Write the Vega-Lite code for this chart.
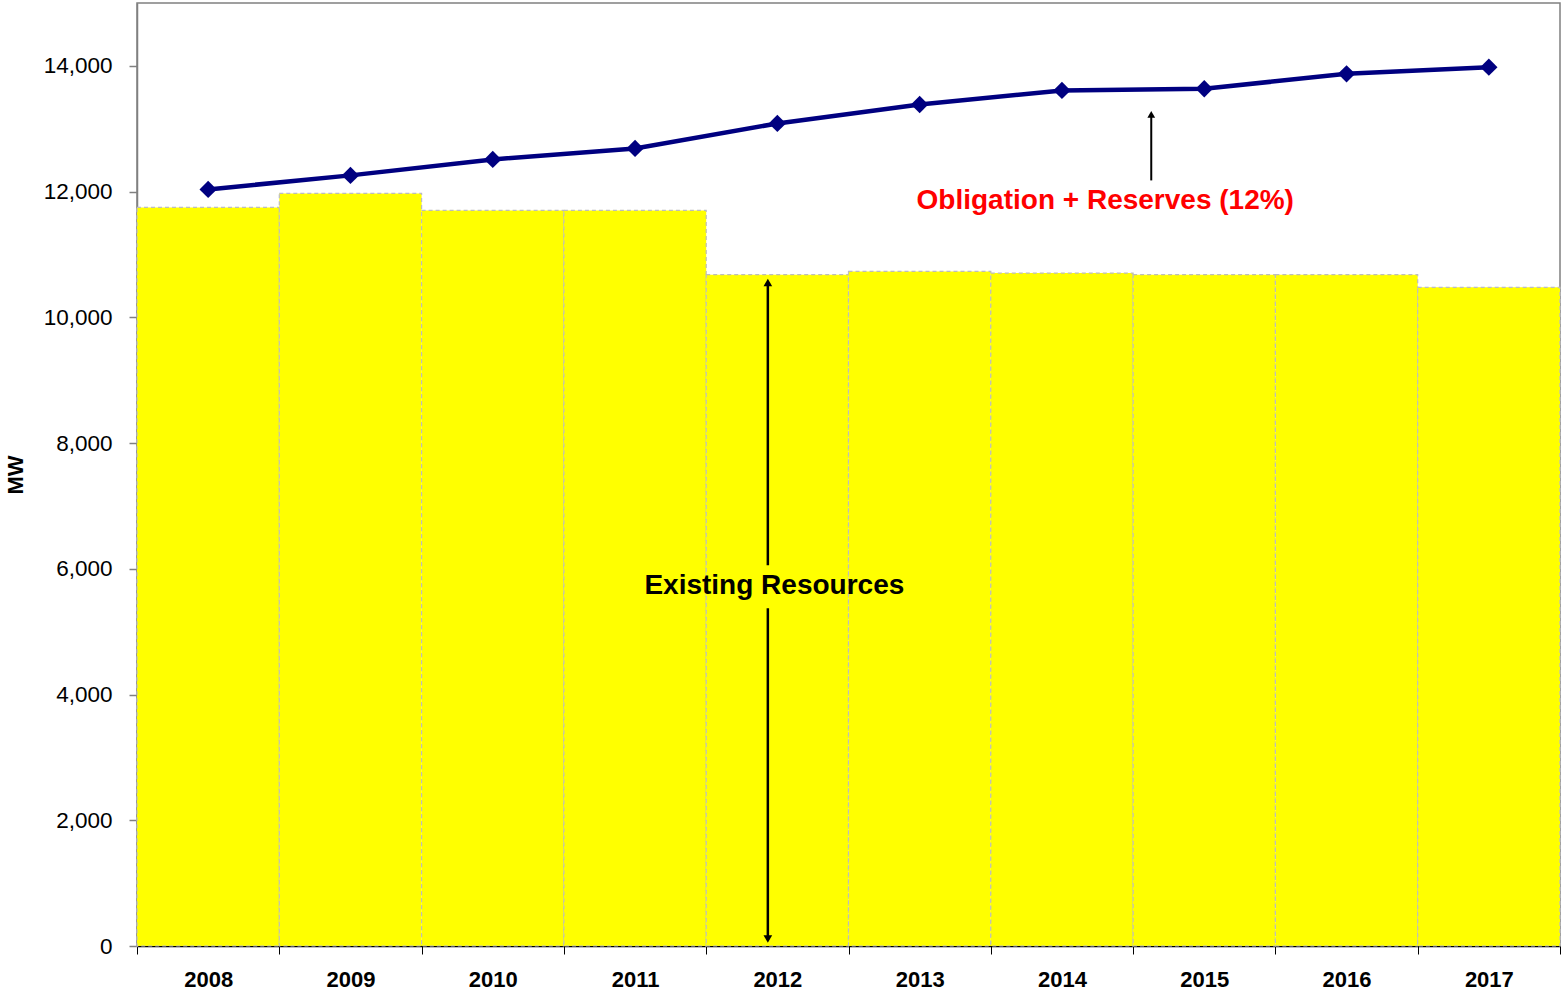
{
  "$schema": "https://vega.github.io/schema/vega-lite/v6.json",
  "width": 1423,
  "height": 943,
  "autosize": {"type": "none"},
  "padding": {"left": 137, "top": 3, "right": 2, "bottom": 51},
  "background": "white",
  "config": {
    "font": "Liberation Sans",
    "view": {"stroke": "#808080", "strokeWidth": 1.5},
    "axis": {"grid": false}
  },
  "data": {
    "values": [
      {"year": "2008", "resources": 11749, "obligation": 12035},
      {"year": "2009", "resources": 11971, "obligation": 12258},
      {"year": "2010", "resources": 11701, "obligation": 12512},
      {"year": "2011", "resources": 11701, "obligation": 12687},
      {"year": "2012", "resources": 10679, "obligation": 13084},
      {"year": "2013", "resources": 10731, "obligation": 13386},
      {"year": "2014", "resources": 10704, "obligation": 13609},
      {"year": "2015", "resources": 10679, "obligation": 13636},
      {"year": "2016", "resources": 10679, "obligation": 13874},
      {"year": "2017", "resources": 10477, "obligation": 13979}
    ]
  },
  "encoding": {
    "x": {
      "field": "year",
      "type": "ordinal",
      "scale": {"paddingInner": 0, "paddingOuter": 0},
      "axis": {
        "title": null,
        "labelAngle": 0,
        "labelFontSize": 22,
        "labelFontWeight": "bold",
        "labelColor": "black",
        "labelPadding": 15,
        "tickBand": "extent",
        "tickSize": 8,
        "tickColor": "black",
        "domainColor": "black",
        "domainWidth": 1.5
      }
    }
  },
  "layer": [
    {
      "mark": {"type": "bar", "color": "#FFFF00", "stroke": "#BDBDBD", "strokeWidth": 1.2, "strokeDash": [4, 3]},
      "encoding": {
        "y": {
          "field": "resources",
          "type": "quantitative",
          "scale": {"domain": [0, 15000], "nice": false},
          "axis": {
            "title": "MW",
            "titleFontSize": 22,
            "titleFontWeight": "bold",
            "titleColor": "black",
            "titlePadding": 16,
            "values": [0, 2000, 4000, 6000, 8000, 10000, 12000, 14000],
            "format": ",.0f",
            "labelFontSize": 22.5,
            "labelColor": "black",
            "labelPadding": 17,
            "tickSize": 8,
            "tickColor": "#808080",
            "tickWidth": 1.5,
            "domainColor": "#808080",
            "domainWidth": 1.5
          }
        }
      }
    },
    {
      "mark": {"type": "line", "color": "#000080", "strokeWidth": 4.5},
      "encoding": {"y": {"field": "obligation", "type": "quantitative"}}
    },
    {
      "mark": {"type": "point", "shape": "diamond", "filled": true, "color": "#000080", "size": 300, "opacity": 1},
      "encoding": {"y": {"field": "obligation", "type": "quantitative"}}
    },
    {
      "data": {"values": [
        {"year": "2012", "from": 10550, "to": 6057},
        {"year": "2012", "from": 5374, "to": 100}
      ]},
      "mark": {"type": "rule", "color": "black", "strokeWidth": 2.5, "xOffset": -9.5},
      "encoding": {
        "y": {"field": "from", "type": "quantitative"},
        "y2": {"field": "to"}
      }
    },
    {
      "data": {"values": [
        {"year": "2015", "from": 12178, "to": 13215}
      ]},
      "mark": {"type": "rule", "color": "black", "strokeWidth": 2, "xOffset": -53},
      "encoding": {
        "y": {"field": "from", "type": "quantitative"},
        "y2": {"field": "to"}
      }
    },
    {
      "data": {"values": [
        {"year": "2012", "tip": 10556, "dir": "up"},
        {"year": "2012", "tip": 111, "dir": "down"}
      ]},
      "mark": {"type": "point", "filled": true, "color": "black", "size": 75, "opacity": 1, "xOffset": -9.5},
      "encoding": {
        "y": {"field": "tip", "type": "quantitative"},
        "shape": {"field": "dir", "type": "nominal", "scale": {"domain": ["up", "down"], "range": ["triangle-up", "triangle-down"]}, "legend": null}
      }
    },
    {
      "data": {"values": [
        {"year": "2015", "tip": 13227}
      ]},
      "mark": {"type": "point", "filled": true, "color": "black", "size": 60, "opacity": 1, "xOffset": -53, "shape": "triangle-up"},
      "encoding": {
        "y": {"field": "tip", "type": "quantitative"}
      }
    },
    {
      "data": {"values": [
        {"year": "2012", "pos": 5723, "label": "Existing Resources"}
      ]},
      "mark": {"type": "text", "fontSize": 28, "fontWeight": "bold", "color": "black", "baseline": "middle", "align": "center", "xOffset": -3},
      "encoding": {
        "y": {"field": "pos", "type": "quantitative"},
        "text": {"field": "label"}
      }
    },
    {
      "data": {"values": [
        {"year": "2015", "pos": 11844, "label": "Obligation + Reserves (12%)"}
      ]},
      "mark": {"type": "text", "fontSize": 28, "fontWeight": "bold", "color": "#FF0000", "baseline": "middle", "align": "center", "xOffset": -99},
      "encoding": {
        "y": {"field": "pos", "type": "quantitative"},
        "text": {"field": "label"}
      }
    }
  ]
}
